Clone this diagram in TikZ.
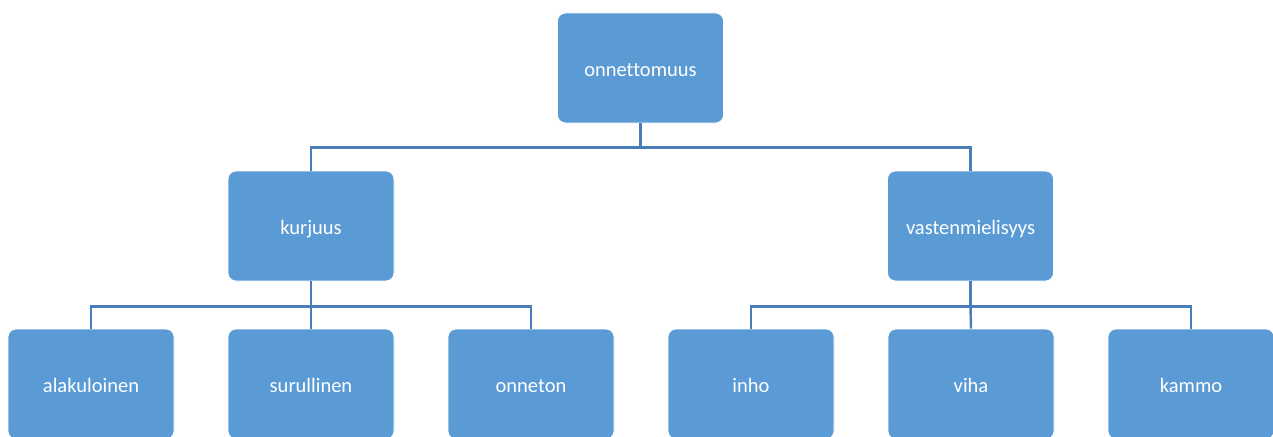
\documentclass[tikz,border=0pt]{standalone}
\usepackage{fontspec}
\setmainfont[Ligatures=NoCommon]{Carlito}
\definecolor{boxblue}{HTML}{5B9BD5}
\definecolor{lineblue}{HTML}{4A7EBB}
\begin{document}
\begin{tikzpicture}[x=1pt,y=-1pt,
  tbox/.style={draw=white,line width=0.8pt,fill=boxblue,rounded corners=8pt,
    minimum width=166pt,minimum height=110pt,inner sep=0pt,
    text=white,font=\fontsize{20.5}{24}\selectfont,
    text height=17pt,text depth=0pt},
  conn/.style={draw=lineblue,line width=2.4pt}]
\useasboundingbox (0,0) rectangle (1273,436);
\clip (0,0) rectangle (1273,436);
\node[tbox] (root) at (640.5,68) {onnettomuus};
\node[tbox] (k) at (311,226) {kurjuus};
\node[tbox] (v) at (970.5,226) {vastenmielisyys};
\node[tbox] (a) at (91,384) {alakuloinen};
\node[tbox] (s) at (311,384) {surullinen};
\node[tbox] (o) at (531,384) {onneton};
\node[tbox] (i) at (751,384) {inho};
\node[tbox] (h) at (971,384) {viha};
\node[tbox] (km) at (1191,384) {kammo};
\path (root.south) ++(0,24) coordinate (r1);
\path (k.south) ++(0,25) coordinate (k1);
\path (v.south) ++(0,25) coordinate (v1);
\draw[conn] (root.south) -- (r1);
\draw[conn] (k.north) -- (k.north |- r1) -- (v.north |- r1) -- (v.north);
\draw[conn] (k.south) -- (k1);
\draw[conn] (a.north) -- (a.north |- k1) -- (o.north |- k1) -- (o.north);
\draw[conn] (k1) -- (s.north);
\draw[conn] (v.south) -- (v1);
\draw[conn] (i.north) -- (i.north |- v1) -- (km.north |- v1) -- (km.north);
\draw[conn] (v1) -- (h.north);
\end{tikzpicture}
\end{document}
